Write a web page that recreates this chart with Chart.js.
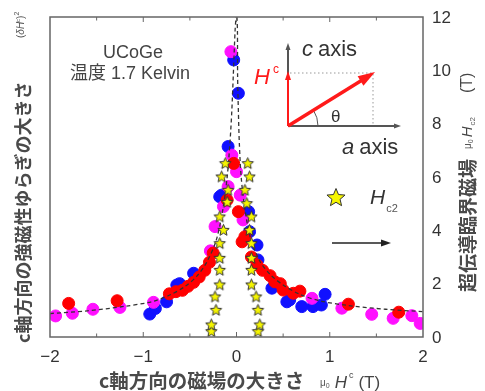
<!DOCTYPE html>
<html>
<head>
<meta charset="utf-8">
<script src="https://cdn.jsdelivr.net/npm/chart.js"></script>
<style>
  body { margin: 0; background: #fff; }
  canvas { display: block; }
</style>
</head>
<body>
<canvas id="myChart" width="485" height="391"></canvas>
<script>
// tick labels
const xTicks = [-2, -1, 0, 1, 2];
const xMinor = [-1.5, -1, -0.5, 0, 0.5, 1, 1.5];
const yTicks = [0, 2, 4, 6, 8, 10, 12];

// (dH^c)^2 data
const bluePts = [[-0.93,0.86],[-0.87,1.07],[-0.75,1.32],[-0.64,1.95],[-0.61,2.0],[-0.46,2.39],
  [-0.18,5.26],[-0.16,5.32],[-0.09,7.14],[-0.03,10.39],[0.02,9.14],[0.13,4.7],[0.14,3.95],
  [0.22,3.45],[0.23,2.89],[0.38,1.83],[0.54,1.32],[0.57,1.39],[0.70,1.14],[0.82,1.14],[0.91,1.2],[0.95,1.6]];
const magentaPts = [[-1.94,0.79],[-1.76,0.89],[-1.54,1.04],[-1.25,1.11],[-0.89,1.30],[-0.28,3.23],
  [-0.23,4.14],[-0.14,4.89],[-0.09,5.64],[-0.06,10.7],[-0.05,6.82],[0.0,6.2],[0.04,5.32],[0.07,4.39],
  [0.81,1.45],[1.13,1.08],[1.45,0.85],[1.68,0.70],[1.88,0.80],[1.97,0.51]];
const redPts = [[-1.80,1.26],[-1.28,1.36],[-0.72,1.62],[-0.65,1.70],[-0.58,1.75],[-0.52,1.90],
  [-0.46,2.05],[-0.40,2.25],[-0.34,2.50],[-0.29,2.80],[-0.25,3.15],[-0.10,5.14],[-0.03,6.51],
  [0.02,4.7],[0.06,3.57],[0.09,3.76],[0.16,3.0],[0.22,2.7],[0.28,2.5],[0.36,2.3],[0.41,2.07],
  [0.47,2.0],[0.50,1.76],[0.61,1.64],[0.68,1.72],[1.20,1.23],[1.74,0.93]];

// Hc2 stars
const hc2Left = [[-0.27,0.2],[-0.27,0.45],[-0.22,1.0],[-0.23,1.5],[-0.18,1.95],[-0.18,2.5],[-0.18,2.95],
  [-0.18,3.5],[-0.14,4.0],[-0.18,4.5],[-0.1,5.05],[-0.09,5.5],[-0.16,6.0],[-0.12,6.5]];
const hc2Right = [[0.23,0.2],[0.25,0.45],[0.23,1.0],[0.21,1.5],[0.16,1.95],[0.16,2.5],[0.16,2.95],
  [0.16,3.5],[0.14,4.0],[0.16,4.5],[0.11,5.0],[0.09,5.5],[0.14,6.0],[0.12,6.5]];

// dashed guide curve
const fitLeft = [[-2,0.88],[-1.6,0.98],[-1.2,1.15],[-0.9,1.33],[-0.7,1.6],[-0.55,1.9],[-0.42,2.3],
  [-0.32,2.8],[-0.22,3.6],[-0.15,4.7],[-0.1,6.0],[-0.07,7.3],[-0.05,8.5],[-0.035,9.76],[-0.015,11.5],[-0.005,12]];
const fitRight = [[0.005,12],[0.01,11.5],[0.012,9.76],[0.02,8.5],[0.03,7.3],[0.05,6.0],[0.09,4.8],
  [0.15,3.7],[0.25,2.85],[0.36,2.35],[0.5,1.95],[0.68,1.6],[0.9,1.35],[1.2,1.18],[1.6,1.04],[2.0,0.95]];

function pts(a) { return a.map(p => ({x: p[0], y: p[1]})) }

function makeStar(r) {
  const c = document.createElement('canvas')
  const s = Math.ceil(r * 2 + 3)
  c.width = s; c.height = s
  const g = c.getContext('2d')
  g.beginPath()
  for (let i = 0; i < 10; i++) {
    const rr = i % 2 == 0 ? r : r * 0.45
    const a = -Math.PI / 2 + i * Math.PI / 5
    g.lineTo(s / 2 + rr * Math.cos(a), s / 2 + rr * Math.sin(a))
  }
  g.closePath()
  g.fillStyle = '#f5f500'
  g.fill()
  g.strokeStyle = '#333'
  g.lineWidth = 1
  g.stroke()
  return c
}
const starImg = makeStar(6)
const starBig = makeStar(9.5)

function arrow(ctx, x1, y1, x2, y2, color, w, hl, hw) {
  const a = Math.atan2(y2 - y1, x2 - x1)
  ctx.strokeStyle = color; ctx.fillStyle = color; ctx.lineWidth = w
  ctx.beginPath()
  ctx.moveTo(x1, y1)
  ctx.lineTo(x2 - hl * 0.8 * Math.cos(a), y2 - hl * 0.8 * Math.sin(a))
  ctx.stroke()
  ctx.beginPath()
  ctx.moveTo(x2, y2)
  ctx.lineTo(x2 - hl * Math.cos(a) + hw / 2 * Math.sin(a), y2 - hl * Math.sin(a) - hw / 2 * Math.cos(a))
  ctx.lineTo(x2 - hl * Math.cos(a) - hw / 2 * Math.sin(a), y2 - hl * Math.sin(a) + hw / 2 * Math.cos(a))
  ctx.closePath()
  ctx.fill()
}

// draw text runs one after another on the current baseline
function runs(ctx, x, y, list) {
  list.forEach(r => {
    ctx.font = r.f
    ctx.fillStyle = r.c || '#444'
    ctx.fillText(r.t, x, y + (r.dy || 0))
    x += ctx.measureText(r.t).width + (r.gap || 0)
  })
}

const CJK = '"Noto Sans CJK JP"'
const SANS = '"Liberation Sans", Arial'

const decor = {
  id: 'decor',
  afterDatasetsDraw(chart) {
    const ctx = chart.ctx
    const a = chart.chartArea
    const xs = chart.scales.x
    ctx.save()
    ctx.strokeStyle = '#666'
    ctx.lineWidth = 1.5
    ctx.strokeRect(a.left, a.top, a.right - a.left, a.bottom - a.top)
    ctx.lineWidth = 1
    xMinor.forEach(v => {
      const px = xs.getPixelForValue(v)
      const len = Number.isInteger(v) ? 5 : 3.5
      ctx.beginPath()
      ctx.moveTo(px, a.bottom); ctx.lineTo(px, a.bottom - len)
      ctx.moveTo(px, a.top); ctx.lineTo(px, a.top + len)
      ctx.stroke()
    })
    ctx.restore()
  },
  afterDraw(chart) {
    const ctx = chart.ctx
    const a = chart.chartArea
    const xs = chart.scales.x, ys = chart.scales.y
    ctx.save()
    ctx.textBaseline = 'middle'

    // tick labels
    ctx.fillStyle = '#333'
    ctx.font = '17px ' + SANS
    ctx.textAlign = 'center'
    xTicks.forEach(v => ctx.fillText(v < 0 ? '\u2212' + (-v) : String(v), xs.getPixelForValue(v), 357))
    ctx.textAlign = 'left'
    yTicks.forEach(v => ctx.fillText(String(v), a.right + 9, ys.getPixelForValue(v) + 1))

    // annotations in plot
    ctx.fillStyle = '#444'
    ctx.font = '18px ' + SANS + ', ' + CJK
    ctx.textAlign = 'center'
    ctx.fillText('UCoGe', 133, 53)
    ctx.fillText('温度 1.7 Kelvin', 130, 74)
    ctx.textAlign = 'left'

    // inset: axes sketch
    arrow(ctx, 288, 126, 288, 43, '#555', 2, 7, 5)
    arrow(ctx, 288, 126, 401, 126, '#555', 2, 7, 5)
    ctx.save()
    ctx.setLineDash([1.5, 2.5])
    ctx.strokeStyle = '#999'; ctx.lineWidth = 1
    ctx.beginPath()
    ctx.moveTo(290, 73); ctx.lineTo(373, 73); ctx.lineTo(373, 124)
    ctx.stroke()
    ctx.restore()
    ctx.strokeStyle = '#555'; ctx.lineWidth = 1
    ctx.beginPath()
    ctx.arc(288, 126, 30, -Math.atan2(53, 85), 0)
    ctx.stroke()
    arrow(ctx, 288, 126, 288, 71, '#ff1a1a', 2, 9, 6)
    arrow(ctx, 288, 126, 375, 72, '#ff1a1a', 3.5, 17, 11)
    runs(ctx, 302, 50, [{t: 'c', f: 'italic 22px ' + SANS, c: '#333', gap: 5}, {t: 'axis', f: '22px ' + SANS, c: '#333'}])
    runs(ctx, 342, 148, [{t: 'a', f: 'italic 22px ' + SANS, c: '#333', gap: 5}, {t: 'axis', f: '22px ' + SANS, c: '#333'}])
    runs(ctx, 254, 78, [{t: 'H', f: 'italic 22px ' + SANS, c: '#ff1a1a', gap: 3}, {t: 'c', f: '12px ' + SANS, c: '#ff1a1a', dy: -8}])
    ctx.font = '17px ' + SANS
    ctx.fillStyle = '#333'
    ctx.fillText('θ', 331, 117)

    // legend
    ctx.drawImage(starBig, 336 - starBig.width / 2, 198 - starBig.height / 2)
    runs(ctx, 370, 198, [{t: 'H', f: 'italic 21px ' + SANS, c: '#333', gap: 1}, {t: 'c2', f: '11px ' + SANS, c: '#555', dy: 11}])
    arrow(ctx, 332, 243, 391, 243, '#222', 1.5, 10, 7)

    // x title
    runs(ctx, 99, 381, [{t: 'c軸方向の磁場の大きさ', f: 'bold 19.5px ' + CJK, c: '#4a4a4a'}])
    runs(ctx, 320, 383, [{t: 'μ', f: '10px ' + SANS, c: '#555'}, {t: '0', f: '7px ' + SANS, c: '#555', dy: 3, gap: 5},
      {t: 'H', f: 'italic 17px ' + SANS, c: '#444', gap: 2}, {t: 'c', f: '9px ' + SANS, c: '#444', dy: -7, gap: 5},
      {t: '(T)', f: '17px ' + SANS, c: '#444'}])

    // left title
    ctx.save()
    ctx.translate(23, 343)
    ctx.rotate(-Math.PI / 2)
    runs(ctx, 0, 0, [{t: 'c軸方向の強磁性ゆらぎの大きさ', f: 'bold 18px ' + CJK, c: '#4a4a4a'}])
    runs(ctx, 305, -2, [{t: '(', f: '10px ' + SANS, c: '#555'}, {t: 'δ', f: 'italic 10px ' + SANS, c: '#555'},
      {t: 'H', f: 'italic 10px ' + SANS, c: '#555'}, {t: 'c', f: '6px ' + SANS, c: '#555', dy: -3},
      {t: ')', f: '10px ' + SANS, c: '#555'}, {t: '2', f: '7px ' + SANS, c: '#555', dy: -4}])
    ctx.restore()

    // right title
    ctx.save()
    ctx.translate(468, 292)
    ctx.rotate(-Math.PI / 2)
    runs(ctx, 0, 0, [{t: '超伝導臨界磁場', f: 'bold 19px ' + CJK, c: '#4a4a4a', gap: 10},
      {t: 'μ', f: '10px ' + SANS, c: '#555'}, {t: '0', f: '7px ' + SANS, c: '#555', dy: 3, gap: 2},
      {t: 'H', f: 'italic 15px ' + SANS, c: '#444', gap: 1}, {t: 'c2', f: '8px ' + SANS, c: '#555', dy: 5, gap: 24},
      {t: '(T)', f: '16px ' + SANS, c: '#444'}])
    ctx.restore()

    ctx.restore()
  }
}

const config = {
  type: 'scatter',
  data: {
    datasets: [
      { label: 'Hc2 left', data: pts(hc2Left), pointStyle: starImg, order: 0 },
      { label: 'Hc2 right', data: pts(hc2Right), pointStyle: starImg, order: 0 },
      {
        label: 'guide',
        data: pts(fitLeft).concat([{x: 0, y: null}], pts(fitRight)),
        showLine: true,
        spanGaps: false,
        borderColor: '#333',
        borderWidth: 1.3,
        borderDash: [4, 3],
        pointRadius: 0,
        tension: 0.3,
        order: 1
      },
      { label: 'red', data: pts(redPts), backgroundColor: '#ff0000', borderColor: '#ff0000', pointRadius: 6, order: 2 },
      { label: 'magenta', data: pts(magentaPts), backgroundColor: '#ff10ff', borderColor: '#ff10ff', pointRadius: 6, order: 3 },
      { label: 'blue', data: pts(bluePts), backgroundColor: '#1010ff', borderColor: '#1010ff', pointRadius: 6, order: 4 }
    ]
  },
  options: {
    responsive: false,
    animation: false,
    layout: { padding: { left: 50, right: 62, top: 17, bottom: 54 } },
    plugins: { legend: { display: false }, tooltip: { enabled: false } },
    scales: {
      x: { type: 'linear', min: -2, max: 2, display: false },
      y: { min: 0, max: 12, display: false }
    }
  },
  plugins: [decor]
}

const myChart = new Chart(document.getElementById('myChart'), config)
</script>
</body>
</html>
